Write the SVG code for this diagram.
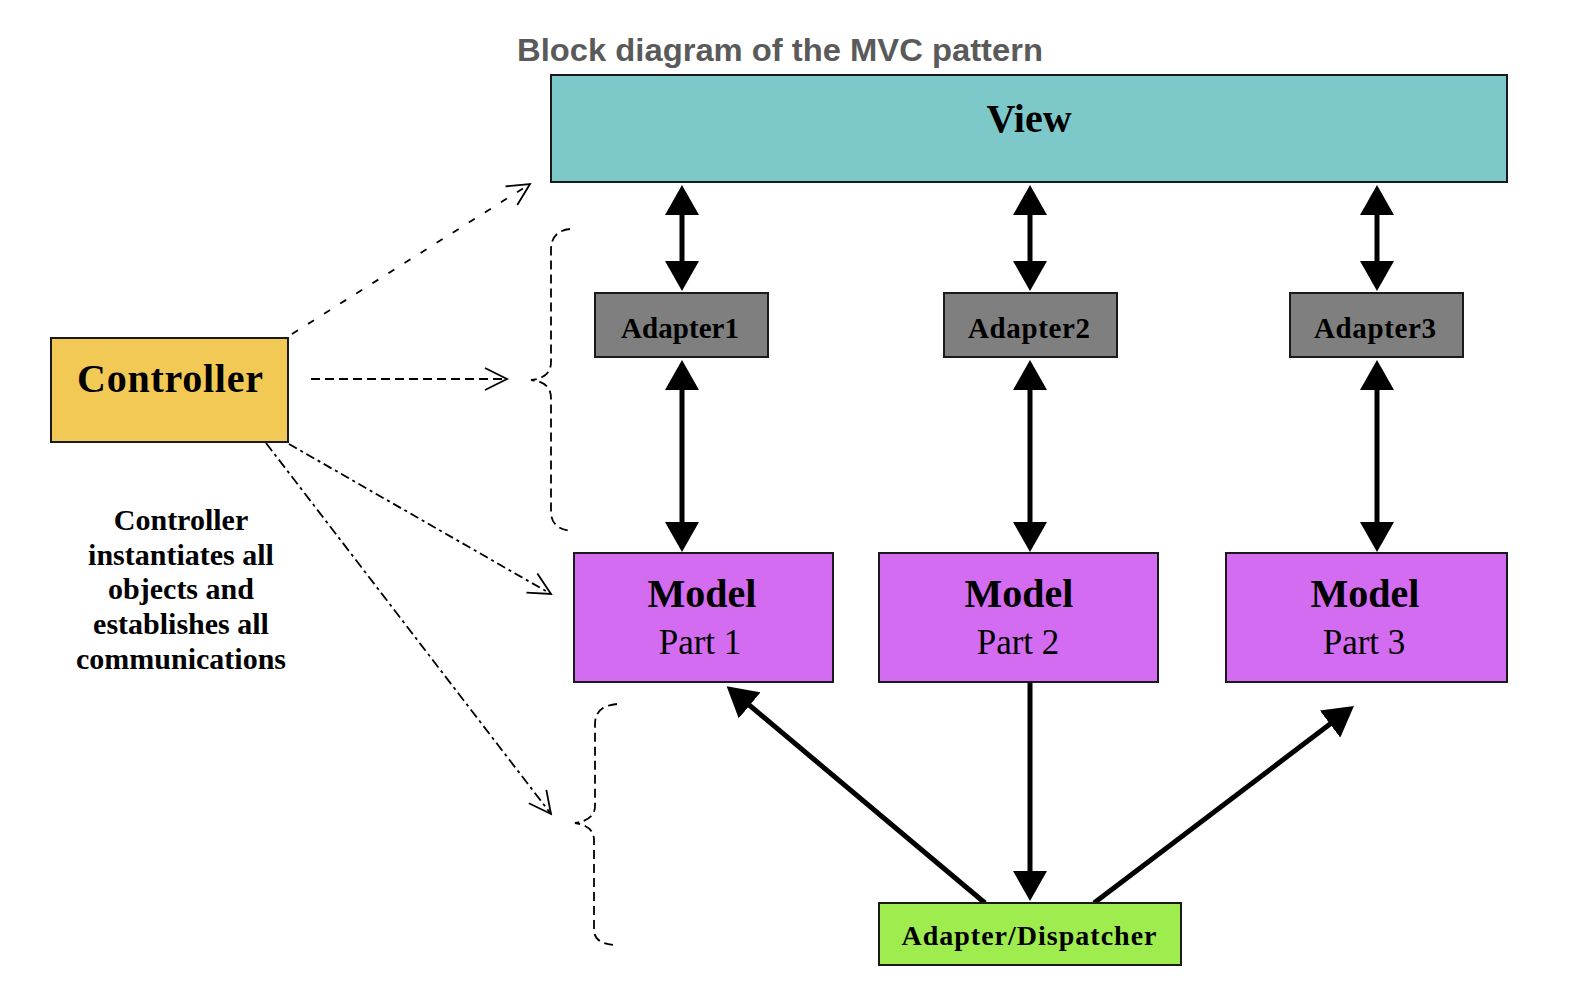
<svg xmlns="http://www.w3.org/2000/svg" width="1596" height="996" viewBox="0 0 1596 996">
<style>
  .box { stroke: #1a1a1a; stroke-width: 2; }
  .tb { font-family: "Liberation Serif", "Times New Roman", serif; font-weight: bold; fill: #000; text-anchor: middle; }
  .tr { font-family: "Liberation Serif", "Times New Roman", serif; fill: #000; text-anchor: middle; }
  .solid { stroke: #000; stroke-width: 5; fill: none; }
  .dash { stroke: #000; stroke-width: 1.8; fill: none; }
</style>
<defs>
  <marker id="ah" viewBox="0 0 30 34" refX="10" refY="17" markerWidth="30" markerHeight="34" markerUnits="userSpaceOnUse" orient="auto-start-reverse">
    <path d="M0,0 L30,17 L0,34 z" fill="#000"/>
  </marker>
  <marker id="oh" viewBox="-24 -13 26 26" refX="0" refY="0" markerWidth="26" markerHeight="26" markerUnits="userSpaceOnUse" orient="auto" overflow="visible">
    <path d="M-22,-11 L0,0 L-22,11" fill="none" stroke="#000" stroke-width="1.8"/>
  </marker>
</defs>
<rect width="1596" height="996" fill="#fff"/>

<text x="780" y="61" font-family="Liberation Sans, Arial, sans-serif" font-weight="bold" font-size="31" fill="#5a5a5a" text-anchor="middle" textLength="526" lengthAdjust="spacingAndGlyphs">Block diagram of the MVC pattern</text>

<g id="connectors">
  <line class="solid" x1="682" y1="205" x2="682" y2="271" marker-start="url(#ah)" marker-end="url(#ah)"/>
  <line class="solid" x1="682" y1="380" x2="682" y2="532" marker-start="url(#ah)" marker-end="url(#ah)"/>
  <line class="solid" x1="1030" y1="205" x2="1030" y2="271" marker-start="url(#ah)" marker-end="url(#ah)"/>
  <line class="solid" x1="1030" y1="380" x2="1030" y2="532" marker-start="url(#ah)" marker-end="url(#ah)"/>
  <line class="solid" x1="1377" y1="205" x2="1377" y2="271" marker-start="url(#ah)" marker-end="url(#ah)"/>
  <line class="solid" x1="1377" y1="380" x2="1377" y2="532" marker-start="url(#ah)" marker-end="url(#ah)"/>
  <line class="solid" x1="1030" y1="683" x2="1030" y2="881" marker-end="url(#ah)"/>
  <line class="solid" x1="985" y1="903" x2="742" y2="699" marker-end="url(#ah)"/>
  <line class="solid" x1="1094" y1="903" x2="1338" y2="718" marker-end="url(#ah)"/>

  <line class="dash" x1="292" y1="334" x2="530" y2="184" stroke-dasharray="7 12" marker-end="url(#oh)"/>
  <line class="dash" x1="311" y1="379" x2="507" y2="379" stroke-dasharray="9 5" marker-end="url(#oh)"/>
  <line class="dash" x1="289" y1="444" x2="551" y2="594" stroke-dasharray="9 4 3 4" marker-end="url(#oh)"/>
  <line class="dash" x1="266" y1="443" x2="551" y2="814" stroke-dasharray="10 4 3 4" marker-end="url(#oh)"/>

  <path class="dash" stroke-dasharray="9 5" d="M570 229 Q551 231 551 250 L551 362 Q551 378 531 380 Q551 382 551 398 L551 512 Q551 529 572 531"/>
  <path class="dash" stroke-dasharray="9 5" d="M617 704 Q595 706 595 724 L595 806 Q595 820 575 823 Q594 826 594 840 L594 930 Q594 944 616 945"/>
</g>

<g id="view">
  <rect class="box" x="551" y="75" width="956" height="107" fill="#7dc9c9"/>
  <text class="tb" x="1029" y="132" font-size="40">View</text>
</g>

<g id="controller">
  <rect class="box" x="51" y="338" width="237" height="104" fill="#f2c955"/>
  <text class="tb" x="170" y="392" font-size="40" textLength="186" lengthAdjust="spacing">Controller</text>
</g>

<g id="adapter1">
  <rect class="box" x="595" y="293" width="173" height="64" fill="#7f7f7f"/>
  <text class="tb" x="680" y="338" font-size="29" textLength="118" lengthAdjust="spacing">Adapter1</text>
</g>
<g id="adapter2">
  <rect class="box" x="944" y="293" width="173" height="64" fill="#7f7f7f"/>
  <text class="tb" x="1029" y="338" font-size="29" textLength="122" lengthAdjust="spacing">Adapter2</text>
</g>
<g id="adapter3">
  <rect class="box" x="1290" y="293" width="173" height="64" fill="#7f7f7f"/>
  <text class="tb" x="1375" y="338" font-size="29" textLength="122" lengthAdjust="spacing">Adapter3</text>
</g>

<g id="model1">
  <rect class="box" x="574" y="553" width="259" height="129" fill="#d36cf0"/>
  <text class="tb" x="702" y="607" font-size="40">Model</text>
  <text class="tr" x="700" y="654" font-size="35">Part 1</text>
</g>
<g id="model2">
  <rect class="box" x="879" y="553" width="279" height="129" fill="#d36cf0"/>
  <text class="tb" x="1019" y="607" font-size="40">Model</text>
  <text class="tr" x="1018" y="654" font-size="35">Part 2</text>
</g>
<g id="model3">
  <rect class="box" x="1226" y="553" width="281" height="129" fill="#d36cf0"/>
  <text class="tb" x="1365" y="607" font-size="40">Model</text>
  <text class="tr" x="1364" y="654" font-size="35">Part 3</text>
</g>

<g id="dispatcher">
  <rect class="box" x="879" y="903" width="302" height="62" fill="#9fec4f"/>
  <text class="tb" x="1029" y="945" font-size="28" textLength="255" lengthAdjust="spacing">Adapter/Dispatcher</text>
</g>

<g id="caption">
  <text class="tb" x="181" y="530" font-size="30">Controller</text>
  <text class="tb" x="181" y="565" font-size="30">instantiates all</text>
  <text class="tb" x="181" y="599" font-size="30">objects and</text>
  <text class="tb" x="181" y="634" font-size="30">establishes all</text>
  <text class="tb" x="181" y="669" font-size="30">communications</text>
</g>
</svg>
